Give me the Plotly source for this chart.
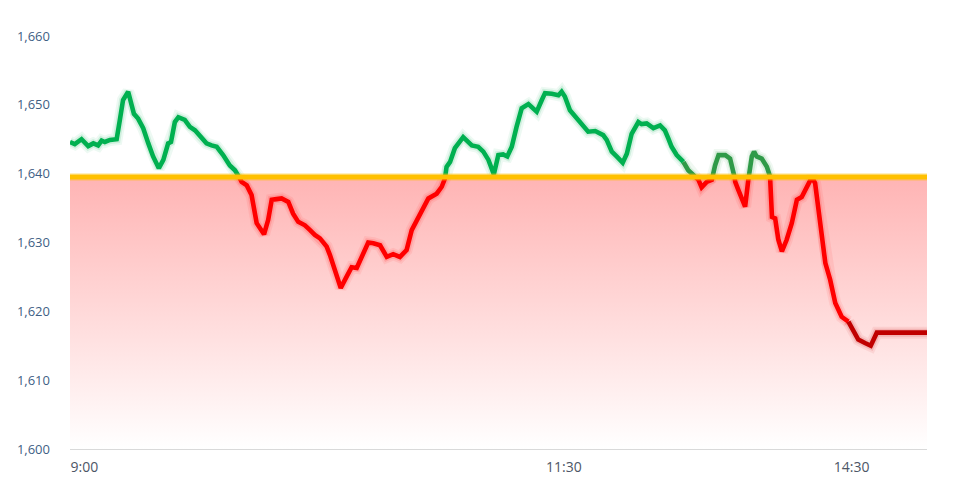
import plotly.graph_objects as go

# ---- data ----
prev_close = 1639.5
# trading minutes since 9:00 (lunch break removed, afternoon resumes at 13:00)
minutes = [-4.5, -3.0, -0.9, 1.2, 2.8, 4.3, 5.4, 6.4, 8.0, 10.1, 11.1, 12.1, 13.7, 14.8, 15.5, 16.8,
           18.4, 20.0, 21.5, 23.3, 24.7, 26.2, 27.1, 28.3, 29.4, 31.4, 33.0, 34.6, 36.1, 38.2, 39.8,
           41.4, 43.4, 45.5, 47.1, 48.1, 49.2, 50.8, 52.3, 53.9, 54.9, 56.2, 57.5, 58.6, 60.1, 61.7,
           63.8, 65.3, 66.9, 69.0, 70.6, 72.1, 73.7, 75.8, 76.8, 78.9, 80.2, 82.0, 83.6, 85.2, 86.7,
           88.8, 90.4, 92.5, 94.6, 96.6, 98.7, 100.8, 102.4, 104.4, 107.6, 110.2, 111.8, 112.8, 113.3,
           114.4, 115.9, 118.5, 121.2, 123.2, 124.8, 126.4, 128.1, 129.5, 131.0, 132.3, 133.7, 135.2,
           136.8, 138.9, 141.5, 143.1, 144.1, 146.2, 148.3, 149.3, 150.3, 151.9, 154.0, 155.6, 157.6,
           159.8, 162.3, 163.4, 165.0, 166.5, 168.4, 169.7, 171.2, 173.3, 174.3, 175.9, 178.0, 180.1,
           181.6, 182.7, 183.7, 185.3, 187.4, 188.9, 190.5, 192.1, 193.1, 194.7, 196.3, 197.3, 198.4,
           200.5, 202.0, 203.1, 203.6, 204.6, 205.7, 206.7, 207.7, 208.8, 209.5, 210.3, 211.9, 213.5,
           214.5, 215.1, 216.1, 217.1, 218.2, 219.7, 221.3, 222.9, 224.4, 226.0, 227.6, 228.6, 230.2,
           231.8, 233.3, 234.9, 236.9, 239.0, 240.6, 242.1, 244.2, 246.0, 247.9, 263.6]
prices = [1644.6, 1644.3, 1645.0, 1644.0, 1644.4, 1644.1, 1644.8, 1644.6, 1644.9, 1645.0, 1647.8,
          1650.7, 1651.9, 1650.2, 1648.7, 1648.0, 1646.6, 1644.4, 1642.5, 1640.8, 1642.0, 1644.4,
          1644.6, 1647.5, 1648.2, 1647.8, 1646.8, 1646.3, 1645.4, 1644.4, 1644.1, 1643.9, 1642.7,
          1641.2, 1640.5, 1639.8, 1638.8, 1638.3, 1636.9, 1632.8, 1632.1, 1631.2, 1633.3, 1636.2,
          1636.3, 1636.4, 1635.9, 1634.2, 1633.0, 1632.5, 1631.8, 1631.1, 1630.6, 1629.4, 1628.2,
          1625.5, 1623.4, 1625.0, 1626.4, 1626.3, 1627.9, 1630.0, 1629.9, 1629.6, 1627.9, 1628.3,
          1627.9, 1628.9, 1631.8, 1633.7, 1636.4, 1637.1, 1638.1, 1639.3, 1641.0, 1641.7, 1643.7,
          1645.3, 1644.1, 1643.9, 1643.2, 1642.0, 1639.9, 1642.7, 1642.8, 1642.5, 1643.9, 1646.8,
          1649.5, 1650.1, 1649.0, 1650.7, 1651.7, 1651.6, 1651.4, 1651.9, 1651.2, 1649.2, 1648.0,
          1647.3, 1646.1, 1646.2, 1645.6, 1644.9, 1643.2, 1642.5, 1641.6, 1642.9, 1645.8, 1647.5,
          1647.2, 1647.3, 1646.6, 1647.0, 1646.3, 1645.1, 1643.9, 1642.7, 1641.7, 1640.5, 1639.8,
          1639.1, 1638.0, 1638.8, 1639.1, 1641.2, 1642.7, 1642.7, 1642.2, 1640.5, 1638.8, 1637.6,
          1636.2, 1635.2, 1639.1, 1642.5, 1643.2, 1642.5, 1642.2, 1641.0, 1639.6, 1633.7, 1633.5,
          1630.4, 1628.7, 1630.4, 1632.8, 1636.2, 1636.6, 1638.1, 1639.5, 1638.6, 1632.8, 1627.0,
          1624.6, 1621.2, 1619.2, 1618.5, 1617.3, 1615.9, 1615.4, 1615.0, 1616.9, 1616.9]
assert len(minutes) == len(prices), (len(minutes), len(prices))

tick_minutes = [0, 150, 240]
tick_labels = ["9:00", "11:30", "14:30"]
y_min, y_max, y_step = 1600, 1660, 10

# ---- styles ----
COL = {
    "up": ("#00b050", "0,176,80"),
    "up2": ("#2f9a48", "47,154,72"),
    "down": ("#ff0000", "255,0,0"),
    "down2": ("#c00000", "192,0,0"),
}


def key_for(x0, above):
    if above:
        return "up" if x0 < 186 else "up2"
    return "down" if x0 < 239 else "down2"


# split the price path at the previous-close level
segs = []
for i in range(len(minutes) - 1):
    x0, y0, x1, y1 = minutes[i], prices[i], minutes[i + 1], prices[i + 1]
    a0, a1 = y0 > prev_close, y1 > prev_close
    if a0 == a1:
        segs.append((x0, y0, x1, y1, key_for(x0, a0)))
    else:
        t = (prev_close - y0) / (y1 - y0)
        xc = x0 + t * (x1 - x0)
        segs.append((x0, y0, xc, prev_close, key_for(x0, a0)))
        segs.append((xc, prev_close, x1, y1, key_for(xc, a1)))

paths = {k: ([], []) for k in COL}
prev_key, prev_end = None, None
for x0, y0, x1, y1, k in segs:
    xs, ys = paths[k]
    if k == prev_key and prev_end == (x0, y0):
        xs.append(x1); ys.append(y1)
    else:
        if xs:
            xs.append(None); ys.append(None)
        xs.extend([x0, x1]); ys.extend([y0, y1])
    prev_key, prev_end = k, (x1, y1)

fig = go.Figure()

# gradient area between previous close and axis bottom
x_ends = [minutes[0], minutes[-1]]
fig.add_trace(go.Scatter(x=x_ends, y=[y_min, y_min], mode="lines",
                         line=dict(width=0), hoverinfo="skip"))
fig.add_trace(go.Scatter(
    x=x_ends, y=[prev_close, prev_close], mode="lines", line=dict(width=0),
    fill="tonexty",
    fillgradient=dict(type="vertical", start=y_min, stop=prev_close,
                      colorscale=[[0, "rgba(255,255,255,1)"], [1, "rgba(255,180,180,1)"]]),
    hoverinfo="skip"))

# soft glow (two layers)
for w, a in ((12, 0.07), (8, 0.13)):
    for k, (xs, ys) in paths.items():
        if xs:
            fig.add_trace(go.Scatter(x=xs, y=ys, mode="lines",
                                     line=dict(color=f"rgba({COL[k][1]},{a})", width=w),
                                     hoverinfo="skip"))
# main lines
for k, (xs, ys) in paths.items():
    if xs:
        fig.add_trace(go.Scatter(x=xs, y=ys, mode="lines",
                                 line=dict(color=COL[k][0], width=4.6)))

# previous close line
fig.add_shape(type="line", xref="paper", x0=0, x1=1, yref="y", y0=prev_close, y1=prev_close,
              line=dict(color="rgba(255,192,0,0.25)", width=8), layer="above")
fig.add_shape(type="line", xref="paper", x0=0, x1=1, yref="y", y0=prev_close, y1=prev_close,
              line=dict(color="#ffc000", width=5), layer="above")

# the page body adds an 8px offset, so the figure is sized to fit the window
fig.update_layout(
    width=967, height=470,
    margin=dict(l=62, r=48, t=28, b=29, autoexpand=False),
    plot_bgcolor="white", paper_bgcolor="white",
    showlegend=False,
    font=dict(family="Open Sans, sans-serif"),
)
fig.update_xaxes(range=x_ends, tickmode="array", tickvals=tick_minutes, ticktext=tick_labels,
                 showgrid=False, zeroline=False, showline=True, linecolor="#d9d9d9", linewidth=1,
                 ticks="", tickfont=dict(size=14, color="#4d5666"), ticklabelstandoff=5,
                 automargin=False)
fig.update_yaxes(range=[y_min, y_max], dtick=y_step, tick0=y_min, tickformat=",d",
                 showgrid=False, zeroline=False, showline=False, ticks="",
                 tickfont=dict(size=13, color="#3f5f85"), ticklabelstandoff=19,
                 automargin=False)

fig.write_html("out.html")
